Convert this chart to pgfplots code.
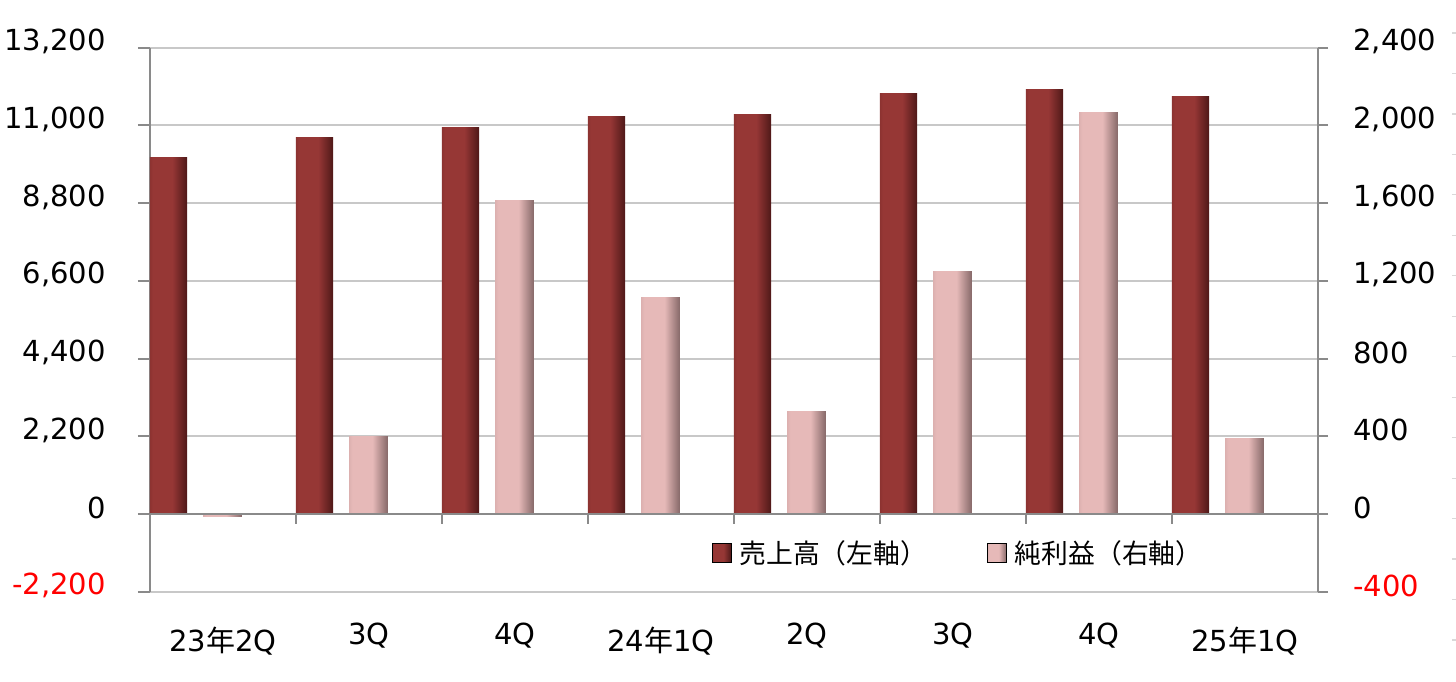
\documentclass[border=0pt]{standalone}
\usepackage{pgfplots}
\usepackage{pgfplotstable}
\pgfplotsset{compat=1.18}
\usepackage{fontspec}
\setmainfont{DejaVu Sans}
\newfontfamily\jp{Noto Sans CJK JP}

\definecolor{rb1}{HTML}{8C3331}
\definecolor{rb2}{HTML}{963735}
\definecolor{rb3}{HTML}{4E1818}
\definecolor{pk1}{HTML}{DDB1B0}
\definecolor{pk2}{HTML}{E6B9B8}
\definecolor{pk3}{HTML}{856868}
\definecolor{gridc}{HTML}{C8C8C8}
\definecolor{axc}{HTML}{8A8A8A}

\pgfdeclarehorizontalshading{redbar}{100bp}{color(0bp)=(rb1); color(25bp)=(rb1); color(29bp)=(rb2); color(55bp)=(rb2); color(75bp)=(rb3); color(100bp)=(rb3)}
\pgfdeclarehorizontalshading{pinkbar}{100bp}{color(0bp)=(pk1); color(25bp)=(pk1); color(29bp)=(pk2); color(55bp)=(pk2); color(75bp)=(pk3); color(100bp)=(pk3)}

% 売上高 (left axis), 純利益 (right axis)
\pgfplotstableread{
x sales profit
0 10100 -15
1 10650 400
2 10950 1615
3 11250 1113
4 11295 530
5 11910 1247
6 12025 2069
7 11825 387
}\data

\begin{document}
\begin{tikzpicture}
\pgfplotsset{
  every axis/.append style={
    scale only axis, width=584pt, height=272pt,
    at={(0,0)}, anchor=south west,
    xmin=-0.5, xmax=7.5,
    tick align=outside,
    scaled y ticks=false,
    tick label style={font=\fontsize{14.5}{17}\selectfont, color=black},
  }
}
\begin{axis}[
  axis y line*=left, axis x line*=bottom,
  x axis line style={draw=none},
  ymin=-2200, ymax=13200,
  ytick={-2200,0,2200,4400,6600,8800,11000,13200},
  yticklabels={{\color{red}-2,200},0,{2,200},{4,400},{6,600},{8,800},{11,000},{13,200}},
  ymajorgrids, grid style={line width=1pt, color=gridc},
  y axis line style={line width=1pt, color=axc},
  ytick style={line width=1pt, color=axc},
  major tick length=6pt,
  xtick={0,...,7},
  xticklabels={\raisebox{-3.5pt}{23{\jp 年}2Q},3Q,4Q,\raisebox{-3.5pt}{24{\jp 年}1Q},2Q,3Q,4Q,\raisebox{-3.5pt}{25{\jp 年}1Q}},
  xtick style={draw=none},
  xticklabel style={anchor=base, yshift=-20.2pt},
  yticklabel style={anchor=east, inner sep=0pt, xshift=-16pt, yshift=3pt},
]
% one plot per bar so that every bar gets its own shading
\pgfplotsinvokeforeach{0,...,7}{
  \addplot[ybar, bar width=0.255, bar shift=-0.373, draw=none, shade, shading=redbar]
    table[x=x, y=sales, restrict expr to domain={\coordindex}{#1:#1}] {\data};
}
\end{axis}

\begin{axis}[
  axis y line*=right, hide x axis,
  ymin=-400, ymax=2400,
  ytick={-400,0,400,800,1200,1600,2000,2400},
  yticklabels={{\color{red}-400},0,400,800,{1,200},{1,600},{2,000},{2,400}},
  y axis line style={line width=1pt, color=axc},
  ytick style={line width=1pt, color=axc},
  major tick length=5pt,
  yticklabel style={anchor=west, inner sep=0pt, xshift=12.5pt, yshift=3pt},
  legend columns=2,
  legend style={at={(0.691,0.071)}, anchor=center, draw=none, fill=none,
    font=\jp\fontsize{13.4}{15}\selectfont,
    nodes={inner sep=0pt},
    /tikz/every odd column/.append style={column sep=4pt},
    /tikz/every even column/.append style={column sep=30pt}},
]
\pgfplotsinvokeforeach{0,...,7}{
  \addplot[ybar, bar width=0.265, bar shift=-0.003, draw=none, shade, shading=pinkbar, forget plot]
    table[x=x, y=profit, restrict expr to domain={\coordindex}{#1:#1}] {\data};
}
\addlegendimage{legend image code/.code={\path[shade, shading=redbar] (0pt,-4.75pt) rectangle (9.5pt,4.75pt);}}
\addlegendentry{売上高（左軸）}
\addlegendimage{legend image code/.code={\path[shade, shading=pinkbar] (0pt,-4.75pt) rectangle (9.5pt,4.75pt);}}
\addlegendentry{純利益（右軸）}
\draw[axc, line width=1pt] (axis cs:-0.5,0) -- (axis cs:7.5,0);
\pgfplotsinvokeforeach{0.5,1.5,2.5,3.5,4.5,5.5,6.5}{
  \draw[axc, line width=1pt] (axis cs:#1,0) -- ++(0pt,-5pt);
}
\end{axis}

% faint stray tick column at the right edge
\begin{axis}[
  at={(651pt,-24.15pt)}, width=1pt, height=303.5pt,
  hide x axis, axis y line*=left,
  y axis line style={draw=none},
  ymin=0, ymax=15, ytick={0,...,15}, yticklabels={},
  tick align=inside, major tick length=2pt,
  ytick style={line width=0.6pt, color=black!15},
]
\end{axis}
\pgfresetboundingbox
\useasboundingbox (-75pt,-44.65pt) rectangle (653pt,295.85pt);
\end{tikzpicture}
\end{document}
